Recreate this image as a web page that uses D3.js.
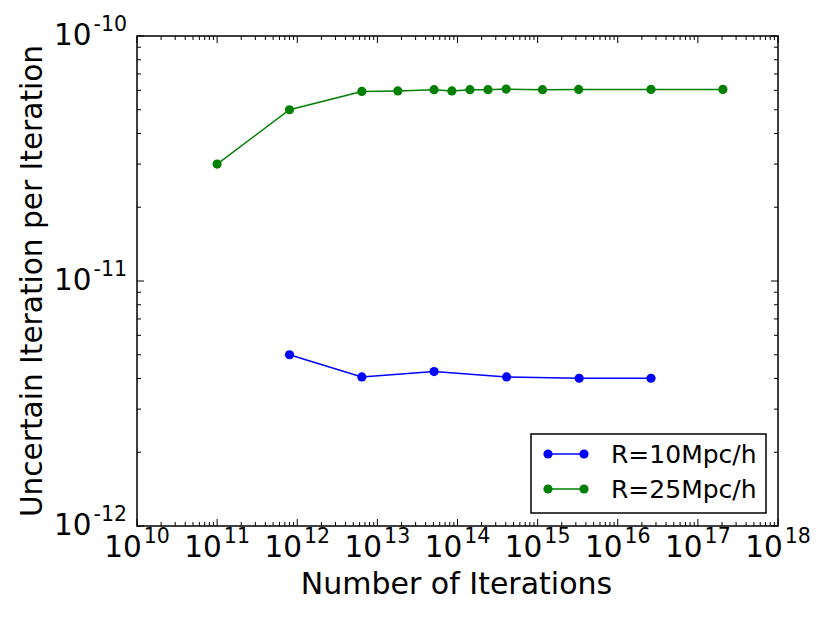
<!DOCTYPE html>
<html>
<head>
<meta charset="utf-8">
<script src="https://cdn.jsdelivr.net/npm/d3@7"></script>
<style>
  body { margin: 0; background: #fff; }
  text { font-family: "DejaVu Sans", sans-serif; fill: #000; }
</style>
</head>
<body>
<div id="chart"></div>
<script>
// data
const seriesNames = ["R=10Mpc/h", "R=25Mpc/h"];
const iterations10 = [8e11, 6.4e12, 5.1e13, 4.1e14, 3.3e15, 2.6e16];
const uncertainty10 = [5.0e-12, 4.06e-12, 4.27e-12, 4.06e-12, 4.01e-12, 4.01e-12];
const iterations25 = [1e11, 8e11, 6.4e12, 1.8e13, 5.1e13, 8.5e13, 1.43e14, 2.4e14, 4.05e14, 1.15e15, 3.25e15, 2.6e16, 2.05e17];
const uncertainty25 = [3.0e-11, 5.0e-11, 5.94e-11, 5.97e-11, 6.04e-11, 5.97e-11, 6.04e-11, 6.04e-11, 6.07e-11, 6.04e-11, 6.05e-11, 6.05e-11, 6.05e-11];
const xExponents = [10, 11, 12, 13, 14, 15, 16, 17, 18];
const yExponents = [-12, -11, -10];

const width = 830, height = 623;
const plotL = 137, plotR = 778, plotT = 36, plotB = 526;

const svg = d3.select("#chart").append("svg")
    .attr("width", width)
    .attr("height", height);

const x = d3.scaleLog().domain([1e10, 1e18]).range([plotL, plotR]);
const y = d3.scaleLog().domain([1e-12, 1e-10]).range([plotB, plotT]);

// minor ticks 2..9 per decade
function minors(exps) {
  let out = [];
  for (let i = 0; i < exps.length - 1; i++)
    for (let m = 2; m <= 9; m++) out.push(m * Math.pow(10, exps[i]));
  return out;
}
const xMajor = xExponents.map(e => Math.pow(10, e));
const yMajor = yExponents.map(e => Math.pow(10, e));

const ticks = svg.append("g").attr("stroke", "#000").attr("stroke-width", 1);
function addTicks(vals, len) {
  vals.forEach(v => {
    let px = x(v);
    ticks.append("line").attr("x1", px).attr("x2", px).attr("y1", plotB).attr("y2", plotB - len);
    ticks.append("line").attr("x1", px).attr("x2", px).attr("y1", plotT).attr("y2", plotT + len);
  });
}
function addYTicks(vals, len) {
  vals.forEach(v => {
    let py = y(v);
    ticks.append("line").attr("y1", py).attr("y2", py).attr("x1", plotL).attr("x2", plotL + len);
    ticks.append("line").attr("y1", py).attr("y2", py).attr("x1", plotR).attr("x2", plotR - len);
  });
}
addTicks(xMajor, 7);
addTicks(minors(xExponents), 4);
addYTicks(yMajor, 7);
addYTicks(minors(yExponents), 4);

// frame
svg.append("rect")
    .attr("x", plotL).attr("y", plotT)
    .attr("width", plotR - plotL).attr("height", plotB - plotT)
    .attr("fill", "none").attr("stroke", "#000").attr("stroke-width", 1.5);

// tick labels  10^n
function powLabel(sel, e) {
  sel.append("tspan").attr("font-size", 29.5).text("10");
  sel.append("tspan").attr("font-size", 20.5).attr("dx", 2).attr("dy", -14).text(e);
}
xExponents.forEach(e => {
  svg.append("text")
      .attr("x", x(Math.pow(10, e)))
      .attr("y", 557)
      .attr("text-anchor", "middle")
      .call(powLabel, e);
});
yExponents.forEach(e => {
  svg.append("text")
      .attr("x", 127)
      .attr("y", y(Math.pow(10, e)) + 9)
      .attr("text-anchor", "end")
      .call(powLabel, e);
});

// axis titles
svg.append("text")
    .attr("x", (plotL + plotR) / 2 - 1).attr("y", 594)
    .attr("text-anchor", "middle")
    .attr("font-size", 30)
    .text("Number of Iterations");
svg.append("text")
    .attr("transform", `translate(42,${(plotT + plotB) / 2}) rotate(-90)`)
    .attr("text-anchor", "middle")
    .attr("font-size", 29.6)
    .text("Uncertain Iteration per Iteration");

// series
const series = [
  { name: seriesNames[0], color: "#0000ff", xs: iterations10, ys: uncertainty10 },
  { name: seriesNames[1], color: "#008000", xs: iterations25, ys: uncertainty25 }
];
const line = d3.line().x(d => x(d[0])).y(d => y(d[1]));

series.forEach(s => {
  const pts = s.xs.map((v, i) => [v, s.ys[i]]);
  svg.append("path")
      .datum(pts)
      .attr("d", line)
      .attr("fill", "none")
      .attr("stroke", s.color)
      .attr("stroke-width", 1.5);
  svg.append("g")
      .selectAll("circle")
      .data(pts)
      .join("circle")
        .attr("cx", d => x(d[0]))
        .attr("cy", d => y(d[1]))
        .attr("r", 4.6)
        .attr("fill", s.color);
});

// legend
const leg = svg.append("g");
leg.append("rect")
    .attr("x", 531).attr("y", 434)
    .attr("width", 235).attr("height", 79)
    .attr("fill", "#fff").attr("stroke", "#000").attr("stroke-width", 1.5);
series.forEach((s, i) => {
  const ly = 454 + i * 35;
  leg.append("line")
      .attr("x1", 548).attr("x2", 584).attr("y1", ly).attr("y2", ly)
      .attr("stroke", s.color).attr("stroke-width", 1.5);
  [548, 584].forEach(cx => leg.append("circle").attr("cx", cx).attr("cy", ly).attr("r", 4.6).attr("fill", s.color));
  leg.append("text")
      .attr("x", 611).attr("y", ly + 9)
      .attr("font-size", 25)
      .text(s.name);
});
</script>
</body>
</html>
